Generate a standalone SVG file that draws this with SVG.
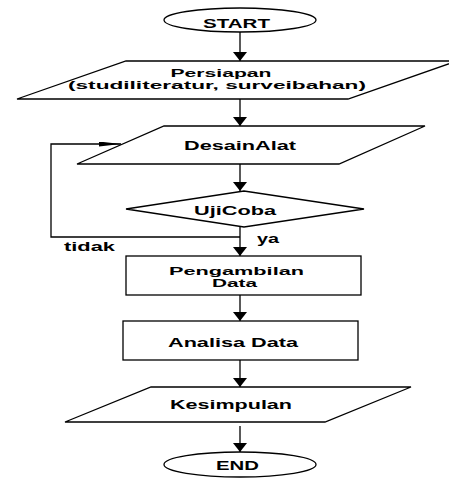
<svg xmlns="http://www.w3.org/2000/svg" width="449" height="478" viewBox="0 0 449 478">
<style>
.s{fill:#fff;stroke:#000;stroke-width:1.3}
.c{fill:none;stroke:#000;stroke-width:1.3}
text{font-family:"Liberation Sans",Arial,sans-serif;font-weight:bold;fill:#000;font-size:12.5px}
.m{text-anchor:middle}
.t{font-size:11px}
</style>
<defs>
<marker id="ah" viewBox="0 0 9 14" refX="9" refY="7" markerWidth="9" markerHeight="14" markerUnits="userSpaceOnUse" orient="auto"><path d="M0,0 L9,7 L0,14 z" fill="#000"/></marker>
<marker id="ahn" viewBox="0 0 22 5" refX="22" refY="2.5" markerWidth="22" markerHeight="5" markerUnits="userSpaceOnUse" orient="auto"><path d="M0,0 L22,2.5 L0,5 z" fill="#000"/></marker>
</defs>
<rect width="449" height="478" fill="#fff"/>
<g id="connectors">
<line class="c" x1="240" y1="32" x2="240" y2="61" marker-end="url(#ah)"/>
<line class="c" x1="240" y1="99" x2="240" y2="126" marker-end="url(#ah)"/>
<line class="c" x1="240" y1="164" x2="240" y2="191" marker-end="url(#ah)"/>
<line class="c" x1="240" y1="227" x2="240" y2="256" marker-end="url(#ah)"/>
<line class="c" x1="240" y1="295" x2="240" y2="321" marker-end="url(#ah)"/>
<line class="c" x1="240" y1="360" x2="240" y2="387" marker-end="url(#ah)"/>
<line class="c" x1="240" y1="426" x2="240" y2="452" marker-end="url(#ah)"/>
<polyline class="c" points="240,237 51,237 51,144 121,144" marker-end="url(#ahn)"/>
<text x="257" y="243" textLength="22" lengthAdjust="spacingAndGlyphs">ya</text>
<text x="64" y="251" textLength="51" lengthAdjust="spacingAndGlyphs">tidak</text>
</g>
<g id="start">
<ellipse class="s" cx="240" cy="20" rx="76" ry="12"/>
<text class="m" x="236.5" y="28" font-size="13.5" textLength="67" lengthAdjust="spacingAndGlyphs">START</text>
</g>
<g id="persiapan">
<polygon class="s" points="126,61 457,61 348,99 17,99"/>
<text class="m t" x="221" y="76.5" textLength="101" lengthAdjust="spacingAndGlyphs">Persiapan</text>
<text class="m t" x="217" y="88.5" textLength="298" lengthAdjust="spacingAndGlyphs">(studiliteratur, surveibahan)</text>
</g>
<g id="desain">
<polygon class="s" points="164,126 425,126 339,164 77,164"/>
<text class="m" x="240" y="149.5" textLength="112" lengthAdjust="spacingAndGlyphs">DesainAlat</text>
</g>
<g id="ujicoba">
<polygon class="s" points="126,209 244,191 364,209 244,227"/>
<text class="m" x="235" y="214.5" textLength="82" lengthAdjust="spacingAndGlyphs">UjiCoba</text>
</g>
<g id="pengambilan">
<rect class="s" x="126" y="256" width="235" height="39"/>
<text class="m t" x="236.5" y="274.5" textLength="135" lengthAdjust="spacingAndGlyphs">Pengambilan</text>
<text class="m t" x="234.5" y="287" textLength="45" lengthAdjust="spacingAndGlyphs">Data</text>
</g>
<g id="analisa">
<rect class="s" x="123" y="321" width="235" height="39"/>
<text class="m" x="233" y="346.5" textLength="130" lengthAdjust="spacingAndGlyphs">Analisa Data</text>
</g>
<g id="kesimpulan">
<polygon class="s" points="151,387 411,387 325,422 65,422"/>
<text class="m" x="231" y="409.3" textLength="122" lengthAdjust="spacingAndGlyphs">Kesimpulan</text>
</g>
<g id="end">
<ellipse class="s" cx="240" cy="464.5" rx="76" ry="12.5"/>
<text class="m" x="237.5" y="470" textLength="43" lengthAdjust="spacingAndGlyphs">END</text>
</g>
</svg>
